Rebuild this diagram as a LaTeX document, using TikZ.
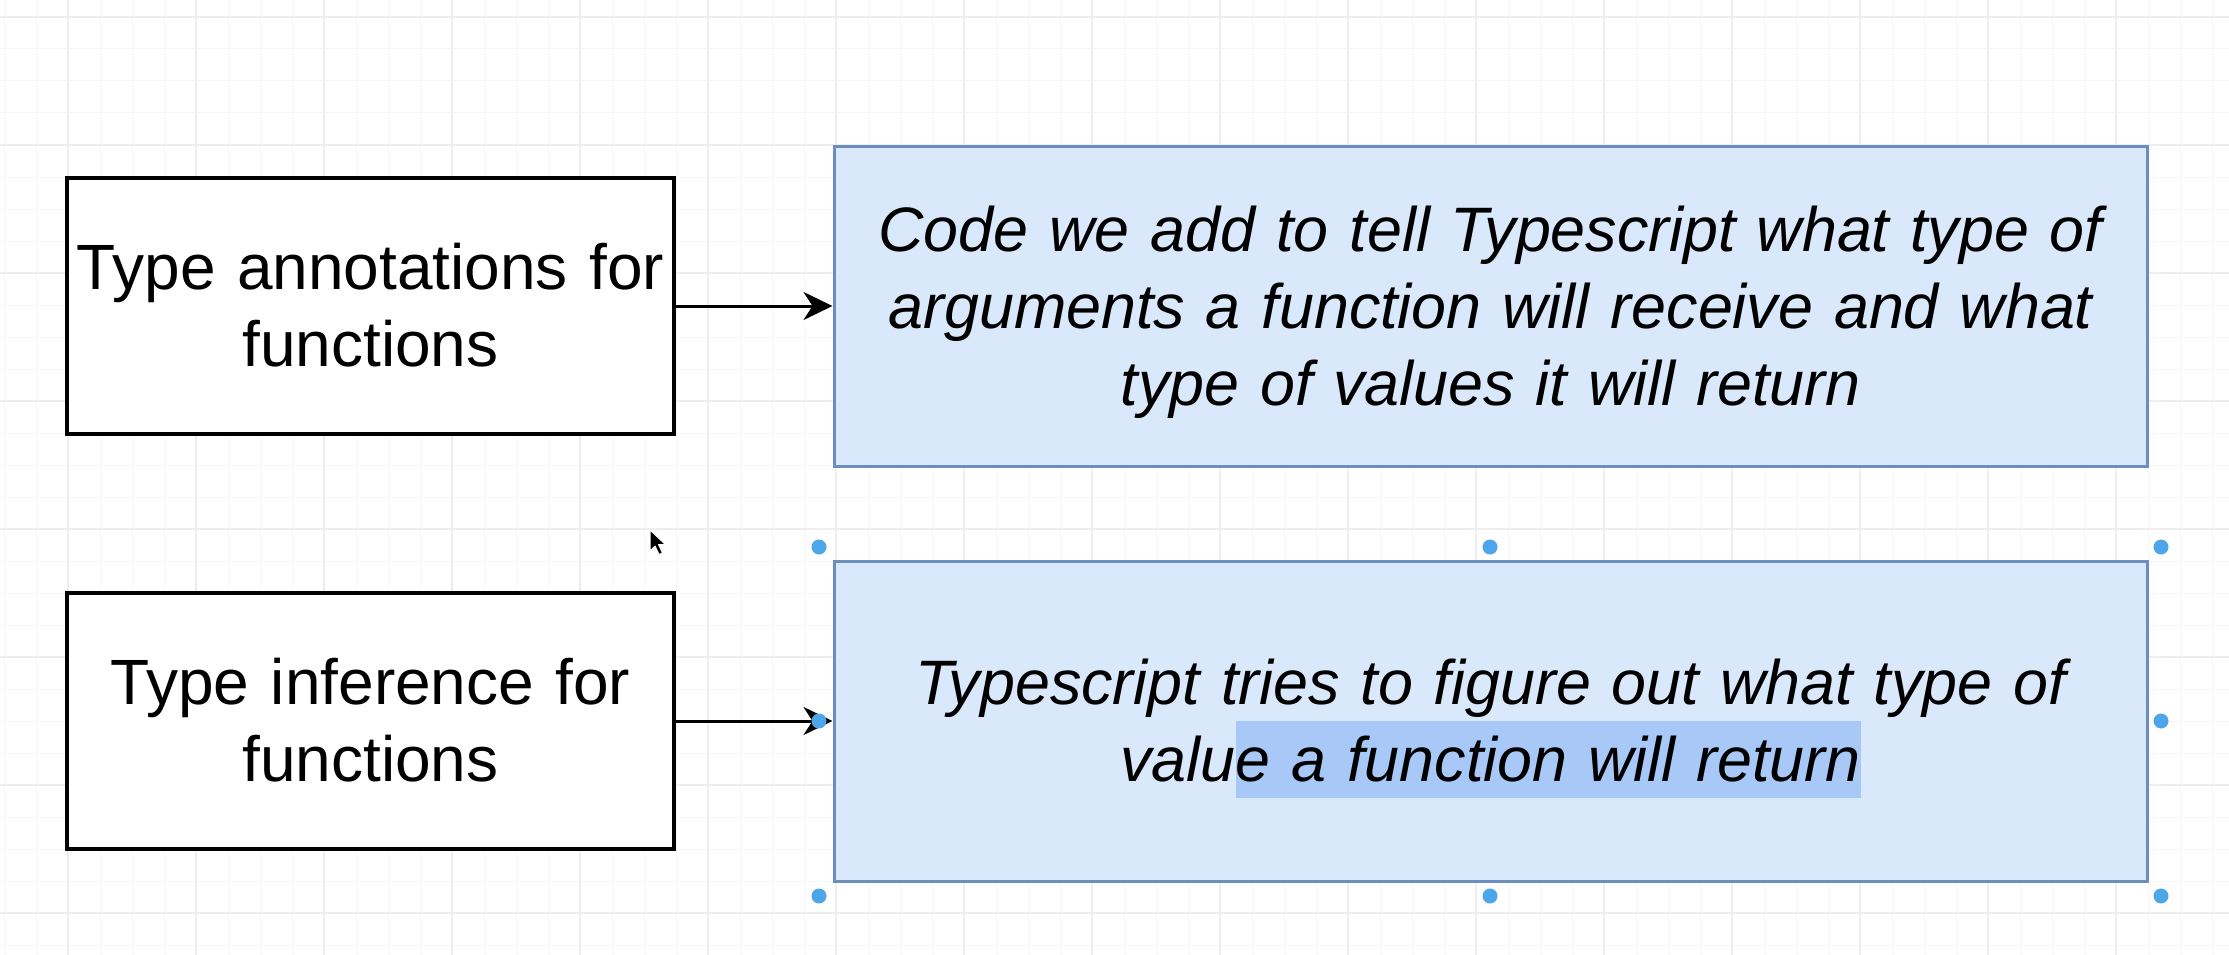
\documentclass[tikz,border=0pt]{standalone}
\usepackage{fontspec}
\setmainfont{Liberation Sans}
\usetikzlibrary{arrows.meta}
\definecolor{gridminor}{HTML}{F6F6F6}
\definecolor{gridmajor}{HTML}{EEEEEE}
\definecolor{bluefill}{HTML}{DAE8FC}
\definecolor{bluedraw}{HTML}{6C8EBF}
\definecolor{hlblue}{HTML}{A8C9F8}
\definecolor{seldot}{HTML}{4DA6EA}
\newcommand\lstrut{\rule[-16.3pt]{0pt}{77pt}}
\newcommand\hlmark[1]{{\setlength{\fboxsep}{0pt}\colorbox{hlblue}{\lstrut#1}}}
\tikzset{
  plainbox/.style={draw=black, fill=white, line width=3.2pt, minimum width=607pt, minimum height=256pt,
    text width=595pt, align=center, inner sep=0pt, font=\fontsize{64}{77}\selectfont},
  descbox/.style={draw=bluedraw, fill=bluefill, line width=3pt, minimum width=1313pt, minimum height=320pt,
    text width=1300pt, align=center, inner sep=0pt, font=\fontsize{62.8}{77}\selectfont\itshape},
  conn/.style={line width=3pt, -{Stealth[length=29pt,width=28pt,inset=9pt]}},
  handle/.style={circle, fill=seldot, minimum size=15pt, inner sep=0pt},
  minorline/.style={gridminor, line width=1pt},
  majorline/.style={gridmajor, line width=1.2pt}
}
\begin{document}
\begin{tikzpicture}[x=1pt,y=-1pt]
\useasboundingbox (0,0) rectangle (2229,955);
\fill[white] (0,0) rectangle (2229,955);
% grid
\foreach \i in {0,...,69} {\draw[minorline] ({4+32*\i},0) -- ({4+32*\i},955);}
\foreach \j in {0,...,29} {\draw[minorline] (0,{17+32*\j}) -- (2229,{17+32*\j});}
\foreach \i in {0,...,16} {\draw[majorline] ({68+128*\i},0) -- ({68+128*\i},955);}
\foreach \j in {0,...,7} {\draw[majorline] (0,{17+128*\j}) -- (2229,{17+128*\j});}
% boxes
\node[plainbox] (a1) at (370.5,306) {\lstrut Type annotations for\\\lstrut functions};
\node[plainbox] (a2) at (370.5,721) {\lstrut Type inference for\\\lstrut functions};
\node[descbox] (d1) at (1490.5,306) {\lstrut Code we add to tell Typescript what type of\\\lstrut arguments a function will receive and what\\\lstrut type of values it will return};
\node[descbox] (d2) at (1490.5,721) {\lstrut Typescript tries to figure out what type of\\\lstrut valu\hlmark{e a function will return}};
% connectors
\draw[conn] (a1.east) -- (d1.west);
\draw[conn] (a2.east) -- (d2.west);
% selection handles
\node[handle] (h1) at (819,547) {};
\node[handle] (h2) at (1490,547) {};
\node[handle] (h3) at (2161,547) {};
\node[handle] (h4) at (819,721) {};
\node[handle] (h5) at (2161,721) {};
\node[handle] (h6) at (819,896) {};
\node[handle] (h7) at (1490,896) {};
\node[handle] (h8) at (2161,896) {};
% mouse cursor
\draw[fill=black, draw=white, line width=1pt, line join=round]
  (650,530) -- ++(0,21) -- ++(5,-5) -- ++(4,8.5) -- ++(3.5,-1.6) -- ++(-4,-8.4) -- ++(7,0) -- cycle;
\end{tikzpicture}
\end{document}
